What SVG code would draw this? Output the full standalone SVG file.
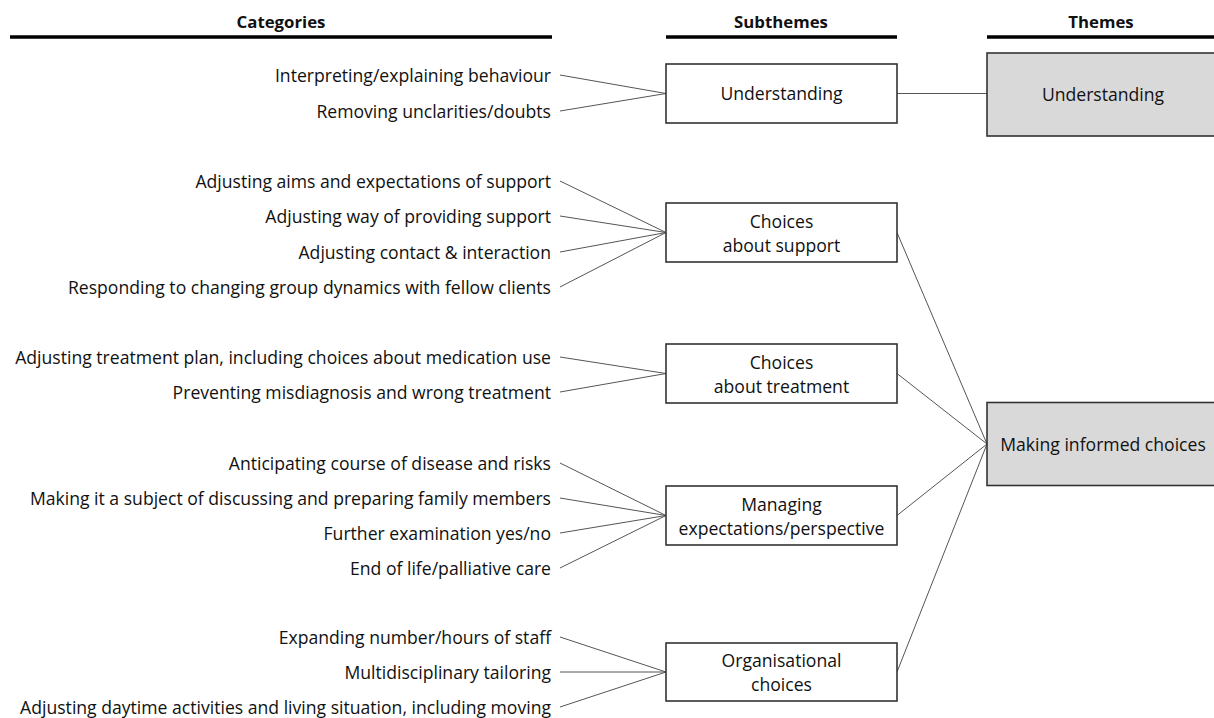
<svg xmlns="http://www.w3.org/2000/svg" width="1214" height="718" viewBox="0 0 1214 718">
<style>
text{font-family:"Open Sans","Liberation Sans",sans-serif;font-size:17.6px;fill:#111}
.h{font-weight:bold;text-anchor:middle;font-size:16.8px}
.c{text-anchor:end}
.m{text-anchor:middle}
.hl{stroke:#000;stroke-width:3.5}
.sub{fill:#fff;stroke:#333;stroke-width:1.6}
.th{fill:#d9d9d9;stroke:#333;stroke-width:1.6}
.cn line{stroke:#555;stroke-width:1}
</style>
<rect width="1214" height="718" fill="#fff"/>
<g id="headers">
<text class="h" x="281" y="28">Categories</text>
<text class="h" x="781" y="28">Subthemes</text>
<text class="h" x="1101" y="28">Themes</text>
<line class="hl" x1="10" y1="37" x2="552" y2="37"/>
<line class="hl" x1="666" y1="37" x2="897" y2="37"/>
<line class="hl" x1="987" y1="37" x2="1214" y2="37"/>
</g>
<g id="categories">
<text class="c" x="551" y="81.5">Interpreting/explaining behaviour</text>
<text class="c" x="551" y="117.5">Removing unclarities/doubts</text>
<text class="c" x="551" y="187.5">Adjusting aims and expectations of support</text>
<text class="c" x="551" y="222.5">Adjusting way of providing support</text>
<text class="c" x="551" y="258.5">Adjusting contact &amp; interaction</text>
<text class="c" x="551" y="293.5">Responding to changing group dynamics with fellow clients</text>
<text class="c" x="551" y="363.5">Adjusting treatment plan, including choices about medication use</text>
<text class="c" x="551" y="398.5">Preventing misdiagnosis and wrong treatment</text>
<text class="c" x="551" y="469.5">Anticipating course of disease and risks</text>
<text class="c" x="551" y="504.5">Making it a subject of discussing and preparing family members</text>
<text class="c" x="551" y="539.5">Further examination yes/no</text>
<text class="c" x="551" y="574.5">End of life/palliative care</text>
<text class="c" x="551" y="643.5">Expanding number/hours of staff</text>
<text class="c" x="551" y="678.5">Multidisciplinary tailoring</text>
<text class="c" x="551" y="713.5">Adjusting daytime activities and living situation, including moving</text>
</g>
<g id="connectors" class="cn">
<line x1="560" y1="75" x2="666" y2="93.5"/>
<line x1="560" y1="111" x2="666" y2="93.5"/>
<line x1="560" y1="181" x2="666" y2="232.5"/>
<line x1="560" y1="216" x2="666" y2="232.5"/>
<line x1="560" y1="252" x2="666" y2="232.5"/>
<line x1="560" y1="287" x2="666" y2="232.5"/>
<line x1="560" y1="357" x2="666" y2="373.5"/>
<line x1="560" y1="392" x2="666" y2="373.5"/>
<line x1="560" y1="463" x2="666" y2="515.5"/>
<line x1="560" y1="498" x2="666" y2="515.5"/>
<line x1="560" y1="533" x2="666" y2="515.5"/>
<line x1="560" y1="568" x2="666" y2="515.5"/>
<line x1="560" y1="637" x2="666" y2="672"/>
<line x1="560" y1="672" x2="666" y2="672"/>
<line x1="560" y1="707" x2="666" y2="672"/>
<line x1="897" y1="93.5" x2="987" y2="93.5"/>
<line x1="897" y1="232.5" x2="987" y2="444"/>
<line x1="897" y1="373.5" x2="987" y2="444"/>
<line x1="897" y1="515.5" x2="987" y2="444"/>
<line x1="897" y1="672" x2="987" y2="444"/>
</g>
<g id="sub-understanding">
<rect class="sub" x="666" y="64" width="231" height="59"/>
<text class="m" x="781.5" y="100">Understanding</text>
</g>
<g id="sub-support">
<rect class="sub" x="666" y="203" width="231" height="59"/>
<text class="m" x="781.5" y="227.5">Choices</text>
<text class="m" x="781.5" y="251.5">about support</text>
</g>
<g id="sub-treatment">
<rect class="sub" x="666" y="344" width="231" height="59"/>
<text class="m" x="781.5" y="368.5">Choices</text>
<text class="m" x="781.5" y="392.5">about treatment</text>
</g>
<g id="sub-expectations">
<rect class="sub" x="666" y="486" width="231" height="59"/>
<text class="m" x="781.5" y="510.5">Managing</text>
<text class="m" x="781.5" y="534.5">expectations/perspective</text>
</g>
<g id="sub-organisational">
<rect class="sub" x="666" y="643" width="231" height="58"/>
<text class="m" x="781.5" y="666.5">Organisational</text>
<text class="m" x="781.5" y="690.5">choices</text>
</g>
<g id="theme-understanding">
<rect class="th" x="987" y="53" width="232" height="83"/>
<text class="m" x="1103" y="100.5">Understanding</text>
</g>
<g id="theme-informed">
<rect class="th" x="987" y="402.5" width="232" height="83"/>
<text class="m" x="1103" y="450.5">Making informed choices</text>
</g>
</svg>
